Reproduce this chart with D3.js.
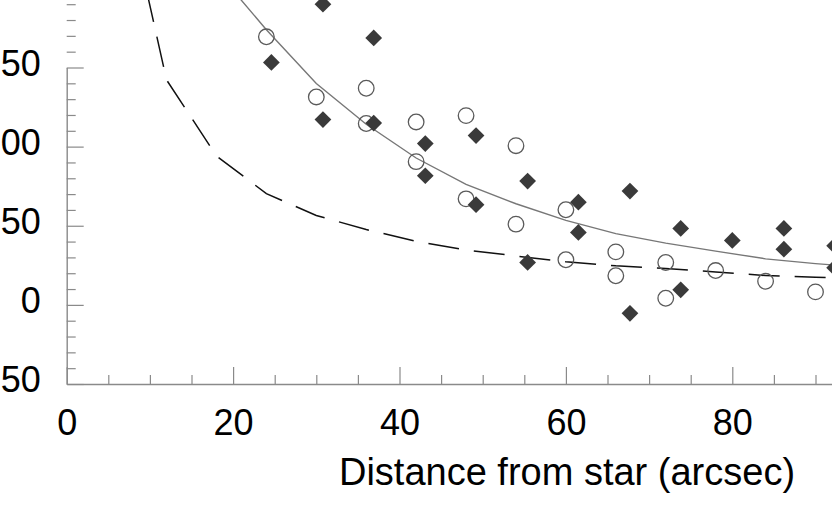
<!DOCTYPE html>
<html>
<head>
<meta charset="utf-8">
<script src="https://cdn.jsdelivr.net/npm/d3@7"></script>
<style>
  html, body { margin: 0; padding: 0; background: #fff; }
  svg { display: block; }
  text { font-family: "Liberation Sans", Arial, Helvetica, sans-serif; fill: #000; }
</style>
</head>
<body>
<svg id="chart" width="832" height="529"></svg>
<script>
// ---- data ----
const xTicks = [0, 20, 40, 60, 80, 100];
const yTicks = [-50, 0, 50, 100, 150, 200];
const yTickLabels = ["-50", "0", "50", "100", "150", "200"];
const xLabel = "Distance from star (arcsec)";

// open circles
const circleX = [24, 30, 36, 36, 42, 42, 48, 48, 54, 54, 60, 60, 66, 66, 72, 72, 78, 84, 90];
const circleY = [169.4, 131.4, 136.9, 114.6, 115.6, 90.5, 119.6, 67.0, 100.6, 51.0, 60.1, 28.5, 33.5, 18.4, 26.8, 4.2, 21.7, 14.9, 8.2];

// filled diamonds
const diamondX = [24.6, 30.8, 30.8, 36.9, 36.9, 43.1, 43.1, 49.2, 49.2, 55.4, 55.4, 61.5, 61.5, 67.7, 67.7, 73.8, 73.8, 80.0, 86.2, 86.2, 92.3, 92.3];
const diamondY = [153.2, 190.0, 117.1, 168.7, 114.9, 101.9, 81.6, 107.0, 63.3, 78.2, 26.8, 64.9, 45.8, 71.9, -5.3, 48.3, 9.5, 40.7, 48.3, 35.2, 37.3, 23.4];

// solid (grey) model curve
const solidX = [18, 24, 30, 36, 42, 48, 54, 60, 66, 72, 78, 84, 90, 96];
const solidY = [211, 173.9, 139.9, 114.1, 92.8, 76.1, 63.9, 53.4, 45.0, 39.0, 34.0, 29.1, 26.1, 23.6];

// dashed (black) model curve
const dashX = [6, 12, 18, 24, 30, 36, 42, 48, 54, 60, 66, 72, 78, 84, 90, 96];
const dashY = [283, 142.2, 94.1, 70.3, 56.5, 47.6, 40.2, 34.7, 30.9, 27.2, 24.7, 23.0, 20.8, 18.5, 17.5, 16.4];

// ---- drawing ----
const svg = d3.select("#chart");
const x = d3.scaleLinear().domain([0, 100]).range([66.7, 66.7 + 832.0]);
const y = d3.scaleLinear().domain([-50, 150]).range([384, 67.5]);

const axisColor = "#8a8a8a";
const fontSize = 36;

// y axis: major ticks
const yMajor = d3.axisLeft(y)
  .tickValues(yTicks)
  .tickFormat((d, i) => yTickLabels[i])
  .tickSize(-17)
  .tickSizeOuter(0)
  .tickPadding(26);
const gy = svg.append("g").attr("transform", `translate(${x(0)},0)`).call(yMajor);
// y minor ticks
const yMinorVals = d3.range(-50, 201, 10).filter(v => v % 50 !== 0);
const gyMinor = svg.append("g").attr("transform", `translate(${x(0)},0)`)
  .call(d3.axisLeft(y).tickValues(yMinorVals).tickFormat("").tickSize(-9).tickSizeOuter(0));
gyMinor.select(".domain").remove();

// x axis
const xMajor = d3.axisBottom(x)
  .tickValues(xTicks)
  .tickSize(-17)
  .tickSizeOuter(0)
  .tickPadding(25);
const gx = svg.append("g").attr("transform", `translate(0,${y(-50)})`).call(xMajor);
const xMinorVals = d3.range(0, 101, 5).filter(v => v % 20 !== 0);
const gxMinor = svg.append("g").attr("transform", `translate(0,${y(-50)})`)
  .call(d3.axisBottom(x).tickValues(xMinorVals).tickFormat("").tickSize(-9).tickSizeOuter(0));
gxMinor.select(".domain").remove();

[gy, gyMinor, gx, gxMinor].forEach(g => {
  g.selectAll("path.domain").attr("stroke", axisColor).attr("stroke-width", 1.4);
  g.selectAll(".tick line").attr("stroke", axisColor).attr("stroke-width", 1.2);
  g.selectAll("text").attr("font-size", fontSize)
    .attr("font-family", "'Liberation Sans', Arial, Helvetica, sans-serif")
    .attr("fill", "#000");
});
gy.selectAll("text").attr("dy", "0.22em");

// axis title
svg.append("text")
  .attr("x", 567)
  .attr("y", 485)
  .attr("text-anchor", "middle")
  .attr("font-size", 38)
  .text(xLabel);

// clip for plot area
svg.append("clipPath").attr("id", "plotclip")
  .append("rect").attr("x", x(0)).attr("y", -100).attr("width", 900).attr("height", y(-50) + 100);

const plot = svg.append("g").attr("clip-path", "url(#plotclip)");

// dashed curve
plot.append("path")
  .datum(dashX.map((d, i) => [d, dashY[i]]))
  .attr("fill", "none")
  .attr("stroke", "#111")
  .attr("stroke-width", 1.5)
  .attr("stroke-dasharray", "31,15")
  .attr("d", d3.line().x(d => x(d[0])).y(d => y(d[1])));

// solid curve
plot.append("path")
  .datum(solidX.map((d, i) => [d, solidY[i]]))
  .attr("fill", "none")
  .attr("stroke", "#777")
  .attr("stroke-width", 1.4)
  .attr("d", d3.line().x(d => x(d[0])).y(d => y(d[1])));

// open circles
plot.selectAll("circle.obs")
  .data(circleX.map((d, i) => [d, circleY[i]]))
  .join("circle")
  .attr("class", "obs")
  .attr("cx", d => x(d[0]))
  .attr("cy", d => y(d[1]))
  .attr("r", 7.8)
  .attr("fill", "none")
  .attr("stroke", "#5a5a5a")
  .attr("stroke-width", 1.3);

// diamonds
const dsym = d3.symbol().type(d3.symbolSquare).size(140);
plot.selectAll("path.dia")
  .data(diamondX.map((d, i) => [d, diamondY[i]]))
  .join("path")
  .attr("class", "dia")
  .attr("d", dsym)
  .attr("transform", d => `translate(${x(d[0])},${y(d[1])}) rotate(45)`)
  .attr("fill", "#3a3a3a");
</script>
</body>
</html>
